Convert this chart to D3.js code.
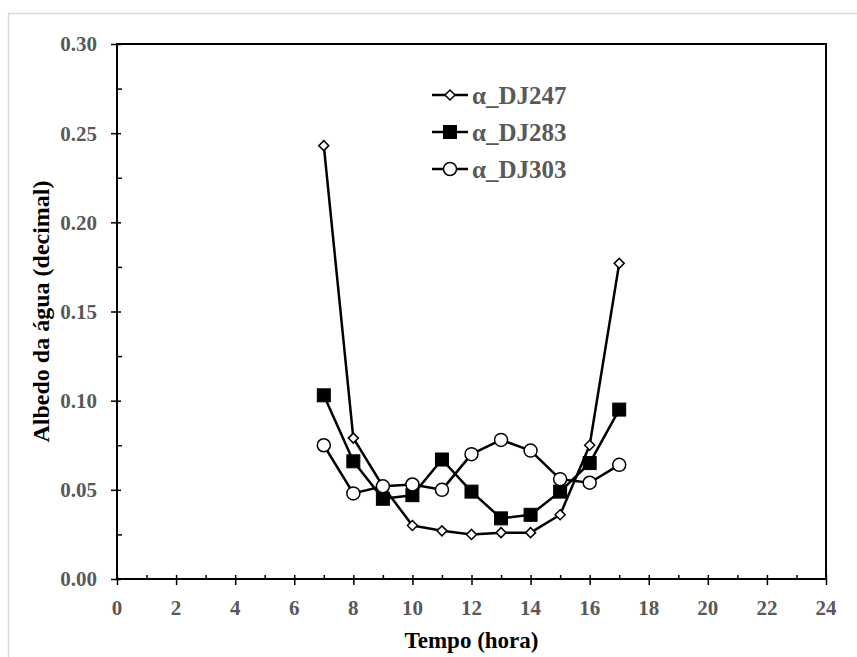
<!DOCTYPE html>
<meta charset="utf-8">
<style>
  body { margin: 0; background: #fff; }
  text { font-family: "Liberation Serif", "Times New Roman", serif; font-weight: bold; }
</style>
<svg width="857" height="657"></svg>
<script src="https://d3js.org/d3.v7.min.js"></script>
<script>

var hours = [7, 8, 9, 10, 11, 12, 13, 14, 15, 16, 17];
var dj247 = [0.243, 0.079, 0.052, 0.030, 0.027, 0.025, 0.026, 0.026, 0.036, 0.075, 0.177];
var dj283 = [0.103, 0.066, 0.045, 0.047, 0.067, 0.049, 0.034, 0.036, 0.049, 0.065, 0.095];
var dj303 = [0.075, 0.048, 0.052, 0.053, 0.050, 0.070, 0.078, 0.072, 0.056, 0.054, 0.064];
var xTicks = d3.range(0, 25, 2);
var yTicks = [0, 0.05, 0.10, 0.15, 0.20, 0.25, 0.30];

var series = [
  {name: "α_DJ247", values: dj247, marker: "diamond"},
  {name: "α_DJ283", values: dj283, marker: "square"},
  {name: "α_DJ303", values: dj303, marker: "circle"}
];

var svg = d3.select("svg"),
    margin = {top: 44, right: 31, bottom: 78, left: 117},
    width = +svg.attr("width") - margin.left - margin.right,
    height = +svg.attr("height") - margin.top - margin.bottom;

// outer chart frame (light gray)
svg.append("rect")
    .attr("x", 8.5).attr("y", 13.5)
    .attr("width", 900).attr("height", 700)
    .attr("fill", "none")
    .attr("stroke", "#d9d9d9")
    .attr("stroke-width", 1.5);

var g = svg.append("g").attr("transform", "translate(" + margin.left + "," + margin.top + ")");

var x = d3.scaleLinear().domain([0, 24]).range([0, width]);
var y = d3.scaleLinear().domain([0, 0.30]).range([height, 0]);

// minor ticks (inside)
g.append("g")
    .attr("transform", "translate(0," + height + ")")
    .call(d3.axisTop(x).tickValues(d3.range(1, 24, 2)).tickSize(4).tickFormat(""))
    .call(function(a) { a.select(".domain").remove(); a.selectAll("line").attr("stroke-width", 1.5); });
g.append("g")
    .call(d3.axisRight(y).tickValues(d3.range(0.025, 0.3, 0.05)).tickSize(5).tickFormat(""))
    .call(function(a) { a.select(".domain").remove(); a.selectAll("line").attr("stroke-width", 1.5); });

// major ticks crossing the axis
g.append("g")
    .attr("transform", "translate(0," + (height - 4) + ")")
    .call(d3.axisBottom(x).tickValues(xTicks).tickSize(10).tickFormat(""))
    .call(function(a) { a.select(".domain").remove(); a.selectAll("line").attr("stroke-width", 1.5); });
g.append("g")
    .attr("transform", "translate(4,0)")
    .call(d3.axisLeft(y).tickValues(yTicks).tickSize(10).tickFormat(""))
    .call(function(a) { a.select(".domain").remove(); a.selectAll("line").attr("stroke-width", 1.5); });

// tick labels
g.selectAll(".xlab")
  .data(xTicks)
  .enter().append("text")
    .attr("x", function(d) { return x(d); })
    .attr("y", height + 36)
    .attr("text-anchor", "middle")
    .attr("fill", "#595959")
    .style("font-size", "21px")
    .text(function(d) { return d; });

g.selectAll(".ylab")
  .data(yTicks)
  .enter().append("text")
    .attr("x", -20)
    .attr("y", function(d) { return y(d); })
    .attr("dy", "0.35em")
    .attr("text-anchor", "end")
    .attr("fill", "#595959")
    .style("font-size", "21px")
    .text(function(d) { return d3.format(".2f")(d); });

// plot box
g.append("rect")
    .attr("width", width).attr("height", height)
    .attr("fill", "none")
    .attr("stroke", "#000")
    .attr("stroke-width", 2);

// axis titles
svg.append("text")
    .attr("x", margin.left + x(12))
    .attr("y", 648)
    .attr("text-anchor", "middle")
    .style("font-size", "23px")
    .text("Tempo (hora)");

svg.append("text")
    .attr("transform", "translate(49," + (margin.top + y(0.15)) + ") rotate(-90)")
    .attr("text-anchor", "middle")
    .style("font-size", "24px")
    .text("Albedo da água (decimal)");

var line = d3.line()
    .x(function(d, i) { return x(hours[i]); })
    .y(function(d) { return y(d); });

function drawMarker(sel, type) {
  if (type === "square") {
    sel.append("rect").attr("x", -6.5).attr("y", -6.5).attr("width", 13).attr("height", 13)
      .attr("fill", "#000").attr("stroke", "#000").attr("stroke-width", 1);
  } else if (type === "circle") {
    sel.append("circle").attr("r", 6.5)
      .attr("fill", "#fff").attr("stroke", "#000").attr("stroke-width", 1.5);
  } else {
    sel.append("path").attr("d", "M0,-5L5,0L0,5L-5,0Z")
      .attr("fill", "#fff").attr("stroke", "#000").attr("stroke-width", 1.5);
  }
}

series.forEach(function(s) {
  g.append("path")
      .datum(s.values)
      .attr("fill", "none")
      .attr("stroke", "#000")
      .attr("stroke-width", 2.5)
      .attr("stroke-linejoin", "round")
      .attr("d", line);

  g.selectAll(null)
    .data(s.values)
    .enter().append("g")
      .attr("transform", function(d, i) { return "translate(" + x(hours[i]) + "," + y(d) + ")"; })
      .each(function() { drawMarker(d3.select(this), s.marker); });
});

// legend
var legend = svg.append("g").attr("transform", "translate(432,95)");
series.forEach(function(s, i) {
  var row = legend.append("g").attr("transform", "translate(0," + (i * 37) + ")");
  row.append("line").attr("x1", 0).attr("x2", 36)
      .attr("stroke", "#000").attr("stroke-width", 2.5);
  drawMarker(row.append("g").attr("transform", "translate(18,0)"), s.marker);
  row.append("text")
      .attr("x", 40)
      .attr("dy", "0.35em")
      .attr("fill", "#595959")
      .style("font-size", "25px")
      .text(s.name);
});

</script>
